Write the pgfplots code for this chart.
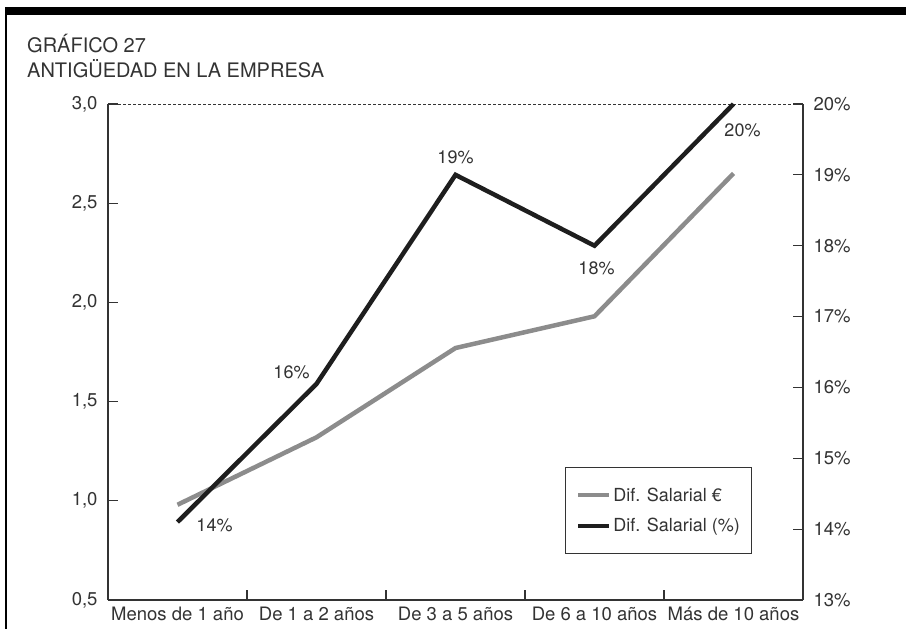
\documentclass[border=0pt]{standalone}
\usepackage{pgfplots}
\pgfplotsset{compat=1.18}
\usepackage{pgfplotstable}
\usepackage{fontspec}
\setmainfont{TeX Gyre Heros}
\definecolor{txt}{HTML}{333333}
\definecolor{gline}{HTML}{8C8C8C}
\definecolor{kline}{HTML}{1E1E1E}
\newcommand\lbl{\fontsize{18bp}{21bp}\selectfont}

% antiguedad: diferencia salarial en euros (eje izq.) y en % (eje der.)
\pgfplotstableread{
x eur pct
0 0.98 14.1
1 1.32 16.05
2 1.77 19.0
3 1.93 18.0
4 2.65 20.0
}\datos

\begin{document}
\begin{tikzpicture}
\path[use as bounding box] (0bp,0bp) rectangle (906bp,629bp);
\fill[black] (5bp,614bp) rectangle (906bp,622bp);
\fill[black] (5bp,0bp) rectangle (7bp,622bp);
\node[anchor=base west, inner sep=0pt, text=txt, font=\fontsize{20bp}{24bp}\selectfont] at (27bp,576bp) {GRÁFICO 27};
\node[anchor=base west, inner sep=0pt, text=txt, font=\fontsize{20bp}{24bp}\selectfont] at (27bp,551bp) {ANTIGÜEDAD EN LA EMPRESA};

\begin{axis}[
    at={(108bp,29bp)}, anchor=south west,
    scale only axis, width=695bp, height=496bp,
    xmin=-0.5, xmax=4.5, ymin=0.5, ymax=3.0,
    axis x line*=bottom, axis y line*=left,
    axis line style={txt, line width=1.2bp},
    xtick={0.5,1.5,2.5,3.5}, xticklabels={},
    extra x ticks={0,1,2,3,4},
    extra x tick labels={Menos de 1 año, De 1 a 2 años, De 3 a 5 años, De 6 a 10 años, Más de 10 años},
    extra x tick style={major tick length=0pt},
    ytick={0.5,1,1.5,2,2.5,3},
    yticklabels={{0,5},{1,0},{1,5},{2,0},{2,5},{3,0}},
    tick align=inside, major tick length=10bp,
    tick style={txt, line width=1.2bp},
    ticklabel style={font=\fontsize{18.5bp}{22bp}\selectfont, text=txt},
    xticklabel style={yshift=-3bp},
    yticklabel style={xshift=-7bp},
    clip=false,
]
\addplot[gline, line width=4.5bp] table[x=x, y=eur] {\datos};
\draw[txt, dash pattern=on 3bp off 2bp, line width=0.8bp] (rel axis cs:0,1) -- (rel axis cs:1,1);
\end{axis}

\begin{axis}[
    at={(108bp,29bp)}, anchor=south west,
    scale only axis, width=695bp, height=496bp,
    xmin=-0.5, xmax=4.5, ymin=13, ymax=20,
    axis x line=none, axis y line*=right,
    axis line style={txt, line width=1.2bp},
    ytick={13,14,15,16,17,18,19,20},
    yticklabels={13\%,14\%,15\%,16\%,17\%,18\%,19\%,20\%},
    tick align=inside, major tick length=10bp,
    tick style={txt, line width=1.2bp},
    ticklabel style={font=\fontsize{18.5bp}{22bp}\selectfont, text=txt},
    yticklabel style={xshift=7bp},
    clip=false,
    legend cell align=left,
    legend image code/.code={\draw[#1] (0bp,0bp) -- (31bp,0bp);},
    legend style={at={(0.658,0.268)}, anchor=north west, draw=txt, line width=1bp,
        fill=white, font=\lbl, text=txt, inner xsep=10bp, inner ysep=18bp, row sep=12bp},
]
\addlegendimage{gline, line width=4.5bp}
\addlegendentry{Dif. Salarial €}
\addplot[kline, line width=4.5bp] table[x=x, y=pct] {\datos};
\addlegendentry{Dif. Salarial (\%)}
\node[font=\lbl, text=txt, xshift=37bp, yshift=-3bp] at (axis cs:0,14.1) {14\%};
\node[font=\lbl, text=txt, xshift=-25bp, yshift=12bp] at (axis cs:1,16.05) {16\%};
\node[font=\lbl, text=txt, yshift=18bp] at (axis cs:2,19) {19\%};
\node[font=\lbl, text=txt, xshift=2bp, yshift=-23bp] at (axis cs:3,18) {18\%};
\node[font=\lbl, text=txt, xshift=9bp, yshift=-26bp] at (axis cs:4,20) {20\%};
\end{axis}
\end{tikzpicture}
\end{document}
